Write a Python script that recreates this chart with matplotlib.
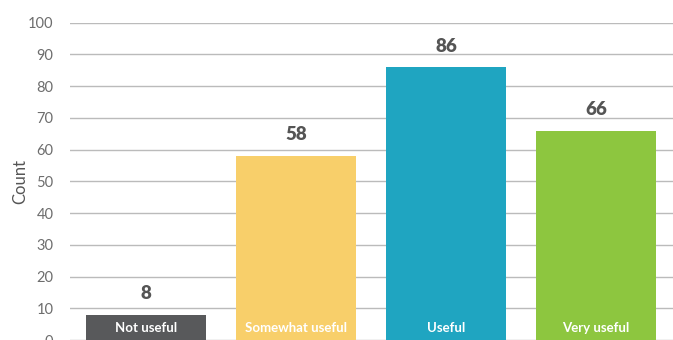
import numpy as np
import matplotlib
matplotlib.use('Agg')
import matplotlib.pyplot as plt

plt.rcParams['font.family'] = ['Lato', 'DejaVu Sans']

# data
categories = ['Not useful', 'Somewhat useful', 'Useful', 'Very useful']
counts = [8, 58, 86, 66]
colors = ['#58595b', '#f8cf6a', '#1fa5c1', '#8dc63f']

fig = plt.figure(figsize=(6.73, 3.40), dpi=100)
ax = fig.add_axes([70 / 673, 0.0, 603 / 673, 1 - 22.7 / 340])

x = np.arange(len(categories))
bars = ax.bar(x, counts, width=0.8, color=colors, zorder=2)

for xi, c, name in zip(x, counts, categories):
    ax.annotate(str(c), (xi, c), xytext=(0, 9), textcoords='offset points',
                ha='center', va='bottom', fontsize=13.5, fontweight='heavy',
                color='#555555')
    ax.annotate(name, (xi, 0), xytext=(0, 9), textcoords='offset points',
                ha='center', va='center', fontsize=9.5, fontweight='bold',
                color='white', zorder=3)

ax.set_xlim(-0.507, 3.513)
ax.set_ylim(0, 100)
ax.set_yticks(np.arange(0, 101, 10))
ax.set_xticks([])
ax.yaxis.grid(True, color='#bbbbbb', linewidth=1, zorder=0)
ax.tick_params(axis='y', length=0, pad=12, labelsize=10.5, labelcolor='#6d6d6d')
for s in ax.spines.values():
    s.set_visible(False)
ax.set_ylabel('Count', fontsize=12, color='#555555')
ax.yaxis.set_label_coords(-0.069, 0.5)

fig.savefig('out.png', dpi=100)
